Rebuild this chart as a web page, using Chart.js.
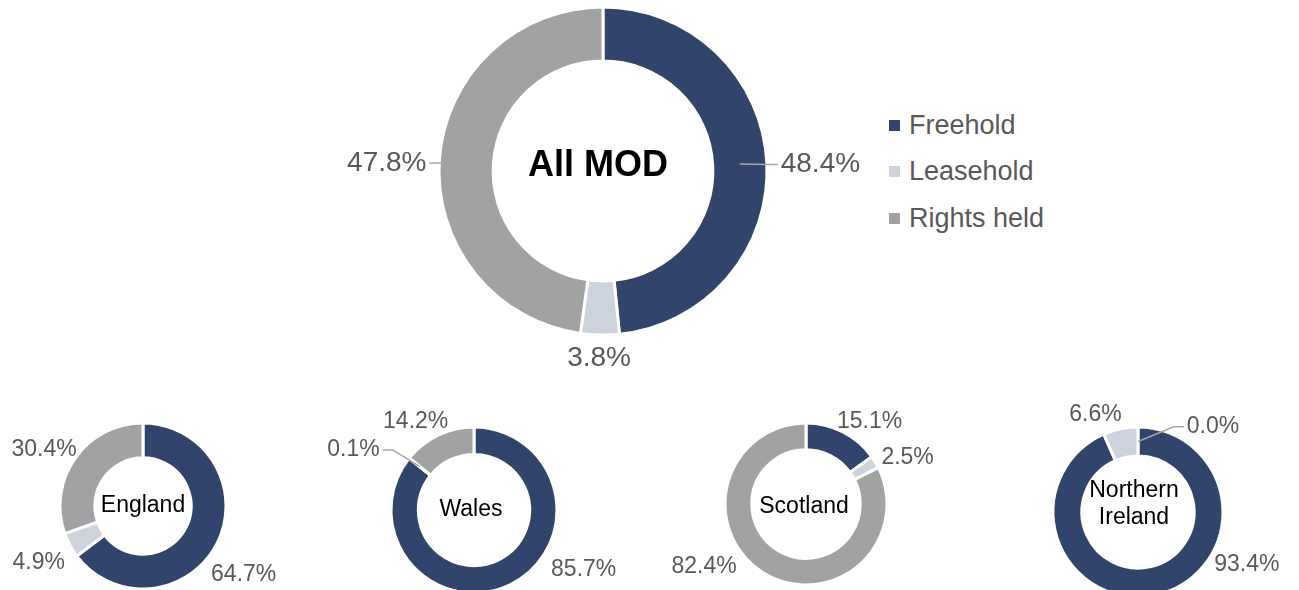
<!DOCTYPE html>
<html>
<head>
<meta charset="utf-8">
<script src="https://cdn.jsdelivr.net/npm/chart.js@4.4.1/dist/chart.umd.min.js"></script>
<style>
  html, body { margin: 0; padding: 0; background: #fff; width: 1299px; height: 590px; overflow: hidden; position: relative; font-family: "Liberation Sans", Arial, sans-serif; }
  canvas.donut { position: absolute; }
  #legend { position: absolute; left: 889px; top: 102px; color: #595959; font-size: 27px; }
  #legend div { height: 46.5px; display: flex; align-items: center; }
  #legend .sw { width: 11px; height: 11px; margin-right: 9px; display: inline-block; }
</style>
</head>
<body>
<div id="legend"></div>
<script>
// segment names and colours
const segments = ["Freehold", "Leasehold", "Rights held"];
const segColors = ["#31446b", "#cdd3dc", "#a0a2a4"];

// share of land by tenure type (%)
const allMod = [48.4, 3.8, 47.8];
const england = [64.7, 4.9, 30.4];
const wales = [85.7, 0.1, 14.2];
const scotland = [15.1, 2.5, 82.4];
const northernIreland = [93.4, 6.6, 0.0];

const FONT = '"Liberation Sans", Arial, sans-serif';
const BORDER = 3;

// labels outside the ring, with optional leader lines
const sliceLabels = {
  id: "sliceLabels",
  afterDraw(chart, args, opts) {
    const ctx = chart.ctx;
    const arcs = chart.getDatasetMeta(0).data;
    const values = chart.data.datasets[0].data;
    ctx.save();
    ctx.font = opts.size + "px " + FONT;
    ctx.textAlign = "center";
    ctx.textBaseline = "middle";
    arcs.forEach((arc, i) => {
      const p = arc.getProps(["x", "y", "startAngle", "endAngle", "outerRadius", "innerRadius"], true);
      const mid = (p.startAngle + p.endAngle) / 2;
      const dx = Math.cos(mid), dy = Math.sin(mid);
      const text = values[i].toFixed(1) + "%";
      const w = ctx.measureText(text).width;
      const h = opts.size * 0.72;
      const d = p.outerRadius + opts.gap;
      const n = opts.nudge[i] || [0, 0];
      const lx = p.x + dx * d + dx * w / 2 + n[0];
      const ly = p.y + dy * d + dy * h / 2 + n[1];
      if (opts.leaders[i]) {
        const rm = (p.outerRadius + p.innerRadius) / 2;
        const side = lx < p.x ? 1 : -1;
        const ex = lx + side * (w / 2 + 3);
        ctx.beginPath();
        ctx.strokeStyle = "#a6a6a6";
        ctx.lineWidth = 1.5;
        ctx.moveTo(ex, ly);
        ctx.lineTo(ex + side * 10, ly);
        ctx.lineTo(p.x + dx * rm, p.y + dy * rm);
        ctx.stroke();
      }
      ctx.fillStyle = "#595959";
      ctx.fillText(text, lx, ly);
    });
    // centre title
    const c = arcs[0];
    ctx.fillStyle = "#000";
    ctx.font = opts.centerFont + " " + FONT;
    const lines = opts.center;
    const lh = opts.centerSize * 1.15;
    const sh = opts.centerShift || [0, 0];
    lines.forEach((t, k) => {
      ctx.fillText(t, c.x + sh[0], c.y + (k - (lines.length - 1) / 2) * lh + sh[1]);
    });
    ctx.restore();
  }
};

function makeDonut(spec) {
  const cv = document.createElement("canvas");
  cv.className = "donut";
  cv.width = spec.w;
  cv.height = spec.h;
  cv.style.left = (spec.cx - spec.w / 2) + "px";
  cv.style.top = (spec.cy - spec.h / 2) + "px";
  document.body.appendChild(cv);
  const side = 2 * spec.r + BORDER;
  const padX = (spec.w - side) / 2, padY = (spec.h - side) / 2;
  new Chart(cv, {
    type: "doughnut",
    data: {
      labels: segments,
      datasets: [{ data: spec.values, backgroundColor: segColors, borderColor: "#fff", borderWidth: BORDER }]
    },
    options: {
      responsive: false,
      animation: false,
      cutout: spec.cutout,
      layout: { padding: { left: padX, right: padX, top: padY, bottom: padY } },
      plugins: {
        legend: { display: false },
        tooltip: { enabled: false },
        sliceLabels: {
          size: spec.size, gap: spec.gap, nudge: spec.nudge, leaders: spec.leaders,
          center: spec.center, centerFont: spec.centerFont, centerSize: spec.centerSize, centerShift: spec.centerShift
        }
      }
    },
    plugins: [sliceLabels]
  });
}

makeDonut({ values: allMod, cx: 603, cy: 171, r: 164, cutout: "67%", w: 920, h: 420, size: 28, gap: 13,
  nudge: [[1, 3], [0, 0], [0, 5]], leaders: [true, false, true],
  center: ["All MOD"], centerFont: "bold 36px", centerSize: 36, centerShift: [-5, -5] });
makeDonut({ values: england, cx: 143, cy: 506, r: 83, cutout: "58%", w: 300, h: 220, size: 23, gap: 8,
  nudge: [[-10, 24], [-1, 10], [2, 1]], leaders: [false, false, false],
  center: ["England"], centerFont: "23px", centerSize: 23 });
makeDonut({ values: wales, cx: 474, cy: 510, r: 83, cutout: "67%", w: 300, h: 220, size: 23, gap: 8,
  nudge: [[56, -30], [-29, 2], [-5, 1]], leaders: [false, true, false],
  center: ["Wales"], centerFont: "23px", centerSize: 23, centerShift: [-3, 0] });
makeDonut({ values: scotland, cx: 806, cy: 504, r: 81, cutout: "67%", w: 300, h: 220, size: 23, gap: 8,
  nudge: [[8, 4], [3, 4], [-38, -20]], leaders: [false, false, false],
  center: ["Scotland"], centerFont: "23px", centerSize: 23, centerShift: [-2, 3] });
makeDonut({ values: northernIreland, cx: 1138, cy: 512, r: 85, cutout: "66%", w: 300, h: 220, size: 23, gap: 8,
  nudge: [[83, -46], [-18, 2], [75, 16]], leaders: [false, false, true],
  center: ["Northern", "Ireland"], centerFont: "23px", centerSize: 23, centerShift: [-4, -8] });

// legend
const legend = document.getElementById("legend");
segments.forEach((s, i) => {
  const row = document.createElement("div");
  row.innerHTML = '<span class="sw" style="background:' + segColors[i] + '"></span>' + s;
  legend.appendChild(row);
});
</script>
</body>
</html>
